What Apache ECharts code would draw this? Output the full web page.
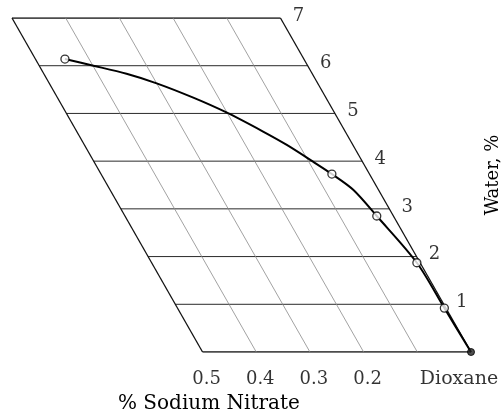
<!DOCTYPE html>
<html>
<head>
<meta charset="utf-8">
<script src="https://cdn.jsdelivr.net/npm/echarts@6/dist/echarts.min.js"></script>
<style>
html,body{margin:0;padding:0;background:#fff;}
#chart{width:502px;height:412px;}
</style>
</head>
<body>
<div id="chart"></div>
<script>
// ---- data ----
const waterTicks = [1, 2, 3, 4, 5, 6, 7];            // water % grid levels (labelled)
const saltTickValues = [0.5, 0.4, 0.3, 0.2];          // labelled sodium nitrate ticks
const saltTickLabels = ['0.5', '0.4', '0.3', '0.2'];
const gridWaterLevels = [0, 1, 2, 3, 4, 5, 6, 7];
const gridSaltLevels = [0, 0.1, 0.2, 0.3, 0.4, 0.5];
// solubility curve (water %, sodium nitrate %)
const curveWater = [6.14, 6.00, 5.83, 5.63, 5.33, 5.02, 4.62, 4.34, 3.99, 3.73, 3.40, 2.85, 1.87, 0.92, 0];
const curveSalt  = [0.445, 0.399, 0.346, 0.300, 0.247, 0.201, 0.153, 0.123, 0.092, 0.070, 0.047, 0.031, 0.006, 0.003, 0];
// measured points
const pointWater = [6.14, 3.73, 2.85, 1.87, 0.92];
const pointSalt  = [0.445, 0.070, 0.031, 0.006, 0.003];
const originWater = [0];
const originSalt = [0];

// ---- oblique projection (salt axis skewed along water) ----
const SHEAR = 0.0507;
const SALT_MAX = 0.5, WATER_MAX = 7;
const proj = (s, w) => [s + w * SHEAR, w];

const FONT = 'DejaVu Serif';
const series = [];

// horizontal grid lines (constant water)
gridWaterLevels.forEach(w => {
  const border = (w === 0 || w === WATER_MAX);
  series.push({
    type: 'line', silent: true, symbol: 'none', z: 1,
    data: [proj(0, w), proj(SALT_MAX, w)],
    lineStyle: { color: border ? '#111' : '#2a2a2a', width: border ? 1.3 : 1 }
  });
});
// slanted grid lines (constant salt)
gridSaltLevels.forEach(s => {
  const border = (s === 0 || s === SALT_MAX);
  series.push({
    type: 'line', silent: true, symbol: 'none', z: 1,
    data: [proj(s, 0), proj(s, WATER_MAX)],
    lineStyle: { color: border ? '#111' : '#8a8a8a', width: border ? 1.3 : 0.8 }
  });
});
// curve
series.push({
  type: 'line', silent: true, symbol: 'none', smooth: 0.3, z: 3,
  data: curveWater.map((w, i) => proj(curveSalt[i], w)),
  lineStyle: { color: '#000', width: 2 }
});
// measured points (open circles)
series.push({
  type: 'scatter', silent: true, z: 4, symbol: 'circle', symbolSize: 8,
  data: pointWater.map((w, i) => proj(pointSalt[i], w)),
  itemStyle: { color: '#fff', borderColor: '#000', borderWidth: 1.3 }
});
// origin (filled)
series.push({
  type: 'scatter', silent: true, z: 4, symbol: 'circle', symbolSize: 7,
  data: originWater.map((w, i) => proj(originSalt[i], w)),
  itemStyle: { color: '#222', borderColor: '#000', borderWidth: 1 }
});
// water tick labels
series.push({
  type: 'scatter', silent: true, symbolSize: 0, z: 5,
  data: waterTicks.map(w => ({ value: proj(0, w), name: String(w) })),
  label: { show: true, position: 'inside', formatter: p => p.name, offset: [18, -2],
           color: '#000', fontFamily: FONT, fontSize: 18 }
});
// salt tick labels
series.push({
  type: 'scatter', silent: true, symbolSize: 0, z: 5,
  data: saltTickValues.map((s, i) => ({ value: proj(s, 0), name: saltTickLabels[i] })),
  label: { show: true, position: 'inside', formatter: p => p.name, offset: [4, 27],
           color: '#000', fontFamily: FONT, fontSize: 18 }
});
// Dioxane label at origin
series.push({
  type: 'scatter', silent: true, symbolSize: 0, z: 5,
  data: [{ value: proj(0, 0), name: 'Dioxane' }],
  label: { show: true, position: 'inside', formatter: p => p.name, offset: [-12, 27],
           color: '#000', fontFamily: FONT, fontSize: 19 }
});

const chart = echarts.init(document.getElementById('chart'), null, { renderer: 'canvas' });
chart.setOption({
  backgroundColor: '#fff',
  animation: false,
  grid: { left: 12, right: 31, top: 18, bottom: 60 },
  xAxis: { type: 'value', inverse: true, min: 0, max: SALT_MAX + WATER_MAX * SHEAR, show: false },
  yAxis: { type: 'value', min: 0, max: WATER_MAX, show: false },
  graphic: [
    { type: 'text', left: 118, top: 394,
      style: { text: '% Sodium Nitrate', font: '20px "DejaVu Serif"', fill: '#000' } },
    { type: 'text', x: 493, y: 175, rotation: Math.PI / 2,
      style: { text: 'Water, %', font: '18px "DejaVu Serif"', fill: '#000', align: 'center', verticalAlign: 'middle' } }
  ],
  series: series
});
</script>
</body>
</html>
